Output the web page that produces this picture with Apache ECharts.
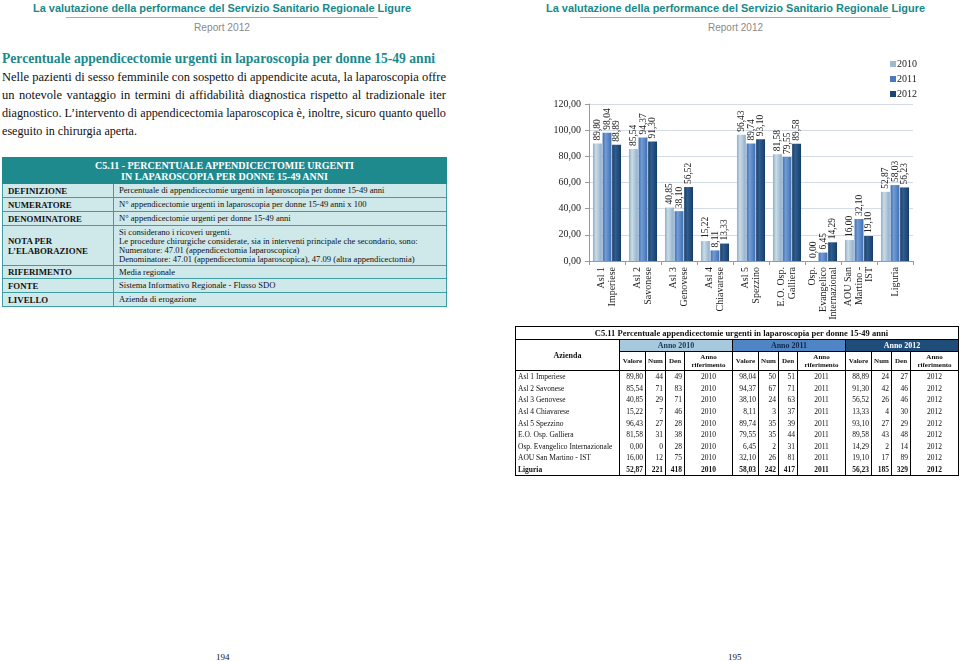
<!DOCTYPE html>
<html><head><meta charset="utf-8">
<script src="https://cdn.jsdelivr.net/npm/echarts@6/dist/echarts.min.js"></script>
<style>
html,body{margin:0;padding:0;background:#fff;}
#page{position:relative;width:960px;height:662px;overflow:hidden;font-family:'Liberation Serif','Times New Roman',serif;color:#111;background:#fff;}
.abs{position:absolute;white-space:nowrap;}
.fit{transform-origin:0 50%;display:inline-block;}
.hdr{font-family:'Liberation Sans',Arial,sans-serif;font-weight:bold;color:#17898a;font-size:11.5px;line-height:12px;}
.rep{font-family:'Liberation Sans',Arial,sans-serif;color:#8a8a8a;font-size:10px;line-height:12px;}
.hline{position:absolute;height:1px;background:#a8a8a8;}
.title{font-family:'Liberation Serif','Times New Roman',serif;font-weight:bold;color:#1b8a8c;font-size:14px;line-height:18px;}
.para{font-family:'Liberation Serif','Times New Roman',serif;font-size:12.5px;line-height:16px;color:#111;transform-origin:0 50%;}
#deftab{position:absolute;left:2px;top:157px;width:444px;border-collapse:collapse;table-layout:fixed;font-family:'Liberation Serif',serif;}
#deftab td{background:#cfe8ea;border:1px solid #3d9ea3;padding:0 0 0 5px;font-size:8.6px;line-height:9px;color:#111;vertical-align:middle;white-space:nowrap;}
#deftab td.k{font-weight:bold;font-size:8.8px;line-height:10px;}
#deftab th{background:#1f8a8e;color:#fff;font-weight:bold;font-size:10px;line-height:11px;border:1px solid #1f8a8e;height:25px;padding:0;}
#datatab{position:absolute;left:515px;top:326px;width:443px;border-collapse:collapse;table-layout:fixed;font-family:'Liberation Serif',serif;font-size:7.5px;color:#111;border:1px solid #000;}
#datatab td,#datatab th{padding:0 2px;white-space:nowrap;overflow:hidden;}
#datatab th{border:1px solid #000;font-weight:bold;}
#datatab td{border-left:1px solid #000;border-right:1px solid #000;height:11.6px;line-height:11px;}
#datatab td.n{text-align:right;}
#datatab td.c{text-align:center;}
#datatab tr.bold td{font-weight:bold;}
.pnum{font-family:'Liberation Serif',serif;font-size:9px;line-height:10px;}
</style></head>
<body>
<div id="page">
  <div class="abs hdr fit" data-w="378" style="left:33px;top:2px;">La valutazione della performance del Servizio Sanitario Regionale Ligure</div>
  <div class="hline" style="left:66px;top:17px;width:312px;"></div>
  <div class="abs rep fit" data-w="56" style="left:194px;top:22px;">Report 2012</div>

  <div class="abs hdr fit" data-w="379" style="left:546px;top:2px;">La valutazione della performance del Servizio Sanitario Regionale Ligure</div>
  <div class="hline" style="left:580px;top:17px;width:311px;"></div>
  <div class="abs rep fit" data-w="55" style="left:708px;top:22px;">Report 2012</div>

  <div class="abs title fit" data-w="433" style="left:2px;top:50px;">Percentuale appendicectomie urgenti in laparoscopia per donne 15-49 anni</div>

  <div class="abs para just" data-w="444" style="left:2px;top:69px;">Nelle pazienti di sesso femminile con sospetto di appendicite acuta, la laparoscopia offre</div>
  <div class="abs para just" data-w="444" style="left:2px;top:87px;">un notevole vantaggio in termini di affidabilità diagnostica rispetto al tradizionale iter</div>
  <div class="abs para just" data-w="444" style="left:2px;top:105px;">diagnostico. L’intervento di appendicectomia laparoscopica è, inoltre, sicuro quanto quello</div>
  <div class="abs para fit" data-w="135" style="left:2px;top:123px;">eseguito in chirurgia aperta.</div>

  <table id="deftab">
    <colgroup><col style="width:111px"><col style="width:333px"></colgroup>
    <tr><th colspan="2">C5.11 - PERCENTUALE APPENDICECTOMIE URGENTI<br>IN LAPAROSCOPIA PER DONNE 15-49 ANNI</th></tr>
    <tr style="height:14px"><td class="k">DEFINIZIONE</td><td>Percentuale di appendicectomie urgenti in laparoscopia per donne 15-49 anni</td></tr>
    <tr style="height:14px"><td class="k">NUMERATORE</td><td>N° appendicectomie urgenti in laparoscopia per donne 15-49 anni x 100</td></tr>
    <tr style="height:14px"><td class="k">DENOMINATORE</td><td>N° appendicectomie urgenti per donne 15-49 anni</td></tr>
    <tr style="height:40px"><td class="k">NOTA PER<br>L’ELABORAZIONE</td><td>Si considerano i ricoveri urgenti.<br>Le procedure chirurgiche considerate, sia in interventi principale che secondario, sono:<br>Numeratore: 47.01 (appendicectomia laparoscopica)<br>Denominatore: 47.01 (appendicectomia laparoscopica), 47.09 (altra appendicectomia)</td></tr>
    <tr style="height:13px"><td class="k">RIFERIMENTO</td><td>Media regionale</td></tr>
    <tr style="height:14px"><td class="k">FONTE</td><td>Sistema Informativo Regionale - Flusso SDO</td></tr>
    <tr style="height:14px"><td class="k">LIVELLO</td><td>Azienda di erogazione</td></tr>
  </table>

  <div id="chart" style="position:absolute;left:540px;top:50px;width:420px;height:290px;"></div>

  <table id="datatab"></table>

  <div class="abs pnum" style="left:216px;top:652px;">194</div>
  <div class="abs pnum" style="left:728px;top:652px;">195</div>
</div>
<script>
// ---------- DATA ----------
const aziende = ['Asl 1 Imperiese','Asl 2 Savonese','Asl 3 Genovese','Asl 4 Chiavarese','Asl 5 Spezzino','E.O. Osp. Galliera','Osp. Evangelico Internazionale','AOU San Martino - IST','Liguria'];
const axisLabels = ['Asl 1\nImperiese','Asl 2\nSavonese','Asl 3\nGenovese','Asl 4\nChiavarese','Asl 5\nSpezzino','E.O. Osp.\nGalliera','Osp.\nEvangelico\nInternazional','AOU San\nMartino -\nIST','Liguria'];
const years = ['2010','2011','2012'];
const valori2010 = [89.80,85.54,40.85,15.22,96.43,81.58,0.00,16.00,52.87];
const valori2011 = [98.04,94.37,38.10,8.11,89.74,79.55,6.45,32.10,58.03];
const valori2012 = [88.89,91.30,56.52,13.33,93.10,89.58,14.29,19.10,56.23];
const num2010 = [44,71,29,7,27,31,0,12,221];
const den2010 = [49,83,71,46,28,38,28,75,418];
const num2011 = [50,67,24,3,35,35,2,26,242];
const den2011 = [51,71,63,37,39,44,31,81,417];
const num2012 = [24,42,26,4,27,43,2,17,185];
const den2012 = [27,46,46,30,29,48,14,89,329];
const yTicks = [0,20,40,60,80,100,120];

const fmt = v => v.toFixed(2).replace('.', ',');

// ---------- TABLE ----------
(function buildTable(){
  const t = document.getElementById('datatab');
  const groups = [
    {y:years[0], v:valori2010, n:num2010, d:den2010, bg:'#a7c9dd', fg:'#1d3a5c'},
    {y:years[1], v:valori2011, n:num2011, d:den2011, bg:'#4f85c5', fg:'#14284a'},
    {y:years[2], v:valori2012, n:num2012, d:den2012, bg:'#1f4d7a', fg:'#ffffff'}
  ];
  let h = '<colgroup><col style="width:104px">';
  for (let g=0; g<3; g++) h += '<col style="width:26px"><col style="width:20px"><col style="width:19px"><col style="width:48px">';
  h += '</colgroup>';
  h += '<tr style="height:13px"><th colspan="13" style="font-size:8.5px;text-align:right;padding-right:70px;">C5.11 Percentuale appendicectomie urgenti in laparoscopia per donne 15-49 anni</th></tr>';
  h += '<tr style="height:12px"><th rowspan="2" style="font-size:8px;">Azienda</th>';
  groups.forEach(g => { h += `<th colspan="4" style="background:${g.bg};color:${g.fg};font-size:8px;">Anno ${g.y}</th>`; });
  h += '</tr><tr style="height:19px">';
  groups.forEach(() => { h += '<th style="font-size:7px">Valore</th><th style="font-size:7px">Num</th><th style="font-size:7px">Den</th><th style="font-size:7px;line-height:8px">Anno<br>riferimento</th>'; });
  h += '</tr>';
  aziende.forEach((a,i) => {
    h += `<tr class="${i===aziende.length-1?'bold':''}"><td>${a}</td>`;
    groups.forEach(g => { h += `<td class="n">${fmt(g.v[i])}</td><td class="n">${g.n[i]}</td><td class="n">${g.d[i]}</td><td class="c">${g.y}</td>`; });
    h += '</tr>';
  });
  t.innerHTML = h;
})();

// ---------- TEXT FITTING ----------
function fitTexts(){
  document.querySelectorAll('.fit').forEach(el => {
    el.style.transform = 'none';
    const w = el.getBoundingClientRect().width;
    const target = +el.dataset.w;
    el.style.transform = `scaleX(${target / w})`;
  });
  document.querySelectorAll('.just').forEach(el => {
    el.style.wordSpacing = '0px';
    el.style.transform = 'none';
    el.style.display = 'inline-block';
    const w = el.getBoundingClientRect().width;
    const target = +el.dataset.w;
    if (w > target) {
      el.style.transform = `scaleX(${target / w})`;
    } else {
      const spaces = (el.textContent.match(/ /g) || []).length;
      el.style.wordSpacing = ((target - w) / spaces) + 'px';
    }
  });
}
fitTexts();
if (document.fonts && document.fonts.ready) document.fonts.ready.then(fitTexts);

// ---------- CHART ----------
const chart = echarts.init(document.getElementById('chart'), null, {renderer:'canvas'});
function grad(dark, light){
  return new echarts.graphic.LinearGradient(0,0,1,0,[
    {offset:0, color:dark},{offset:0.35, color:light},{offset:1, color:dark}
  ]);
}
const seriesColors = [
  {base:'#9dbad0', dark:'#8eaec6', light:'#cadce8'},
  {base:'#4a7bbf', dark:'#3f6fb2', light:'#719cd6'},
  {base:'#1b4674', dark:'#173d66', light:'#2f5e92'}
];
const values = [valori2010, valori2011, valori2012];
const FONT = 'Liberation Serif';
chart.setOption({
  animation:false,
  textStyle:{fontFamily:FONT},
  legend:{
    orient:'vertical', left:345, top:4, itemWidth:6, itemHeight:6, itemGap:5,
    icon:'rect',
    textStyle:{fontFamily:FONT, fontSize:10, color:'#222', padding:[0,0,0,-4]},
    data: years.map((y,i)=>({name:y, itemStyle:{color:seriesColors[i].base}}))
  },
  grid:{left:49, right:47, top:54, bottom:79, containLabel:false},
  xAxis:{
    type:'category', data:axisLabels,
    axisLine:{lineStyle:{color:'#9a9a9a'}},
    axisTick:{show:true, length:4, lineStyle:{color:'#9a9a9a'}},
    axisLabel:{interval:0, rotate:90, fontFamily:FONT, fontSize:10, lineHeight:10.5, color:'#222', margin:6}
  },
  yAxis:{
    type:'value', min:yTicks[0], max:yTicks[yTicks.length-1], interval:20,
    axisLine:{show:true, lineStyle:{color:'#9a9a9a'}},
    axisTick:{show:true, length:4, lineStyle:{color:'#9a9a9a'}},
    splitLine:{lineStyle:{color:'#d3dbe5'}},
    axisLabel:{formatter:v=>fmt(v), fontFamily:FONT, fontSize:10, color:'#222', margin:8}
  },
  series: years.map((y,i)=>({
    name:y, type:'bar', data:values[i],
    barCategoryGap:'22%', barGap:'8%',
    itemStyle:{color:grad(seriesColors[i].dark, seriesColors[i].light)},
    label:{show:true, position:'top', rotate:90, align:'left', verticalAlign:'middle', distance:3,
      formatter:p=>fmt(p.value), fontFamily:FONT, fontSize:9.5, color:'#222'}
  }))
});
</script>
</body></html>
